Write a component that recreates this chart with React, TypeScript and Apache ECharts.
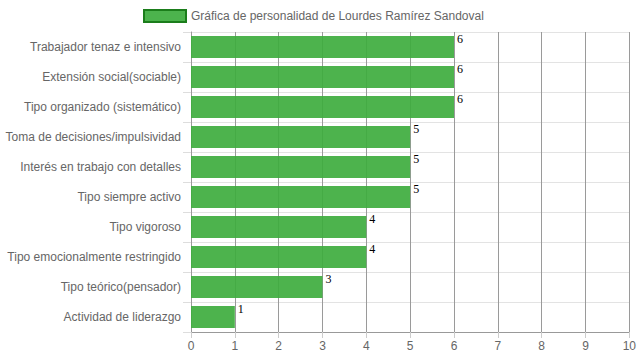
import React, { useEffect, useRef } from "react";
import * as echarts from "echarts";

const categories = [
  "Trabajador tenaz e intensivo",
  "Extensión social(sociable)",
  "Tipo organizado (sistemático)",
  "Toma de decisiones/impulsividad",
  "Interés en trabajo con detalles",
  "Tipo siempre activo",
  "Tipo vigoroso",
  "Tipo emocionalmente restringido",
  "Tipo teórico(pensador)",
  "Actividad de liderazgo",
];
const values = [6, 6, 6, 5, 5, 5, 4, 4, 3, 1];
const seriesName = "Gráfica de personalidad de Lourdes Ramírez Sandoval";

export default function App() {
  const ref = useRef<HTMLDivElement>(null);
  useEffect(() => {
    if (!ref.current) return;
    const chart = echarts.init(ref.current, undefined, { renderer: "svg" });
    const font = "'Liberation Sans', Arial, Helvetica, sans-serif";
    chart.setOption({
      animation: false,
      textStyle: { fontFamily: font },
      legend: {
        top: 9,
        left: 143,
        padding: 0,
        icon: "rect",
        itemWidth: 42,
        itemHeight: 12,
        itemGap: 10,
        data: [seriesName],
        textStyle: { color: "#666", fontSize: 12, fontFamily: font },
        itemStyle: { color: "#4cb34d", borderColor: "#1b7d1b", borderWidth: 2 },
      },
      grid: { left: 191, right: 9, top: 32, bottom: 28, containLabel: false },
      xAxis: {
        type: "value",
        min: 0,
        max: 10,
        interval: 1,
        axisLine: { show: true, lineStyle: { color: "#999" } },
        axisTick: { show: true, length: 6, lineStyle: { color: "#ccc" } },
        axisLabel: { color: "#666", fontSize: 12, fontFamily: font, margin: 8 },
        splitLine: { show: true, lineStyle: { color: "#9a9a9a" } },
      },
      yAxis: {
        type: "category",
        inverse: true,
        data: categories,
        axisLine: { show: true, lineStyle: { color: "#999" } },
        axisTick: { show: true, length: 8, lineStyle: { color: "#ddd" } },
        axisLabel: { color: "#666", fontSize: 12, fontFamily: font, margin: 10 },
        splitLine: { show: true, lineStyle: { color: "#e3e3e3" } },
      },
      series: [
        {
          name: seriesName,
          type: "bar",
          data: values,
          barWidth: 22,
          itemStyle: { color: "rgba(62,172,62,0.92)" },
          label: {
            show: true,
            position: ["100%", 0],
            offset: [3, -3],
            align: "left",
            verticalAlign: "top",
            color: "#000",
            fontSize: 12,
            fontFamily: "'Liberation Serif', 'Times New Roman', serif",
          },
        },
      ],
    });
    return () => chart.dispose();
  }, []);
  return <div ref={ref} style={{ width: 639, height: 360, position: "absolute", left: 0, top: 0 }} />;
}
